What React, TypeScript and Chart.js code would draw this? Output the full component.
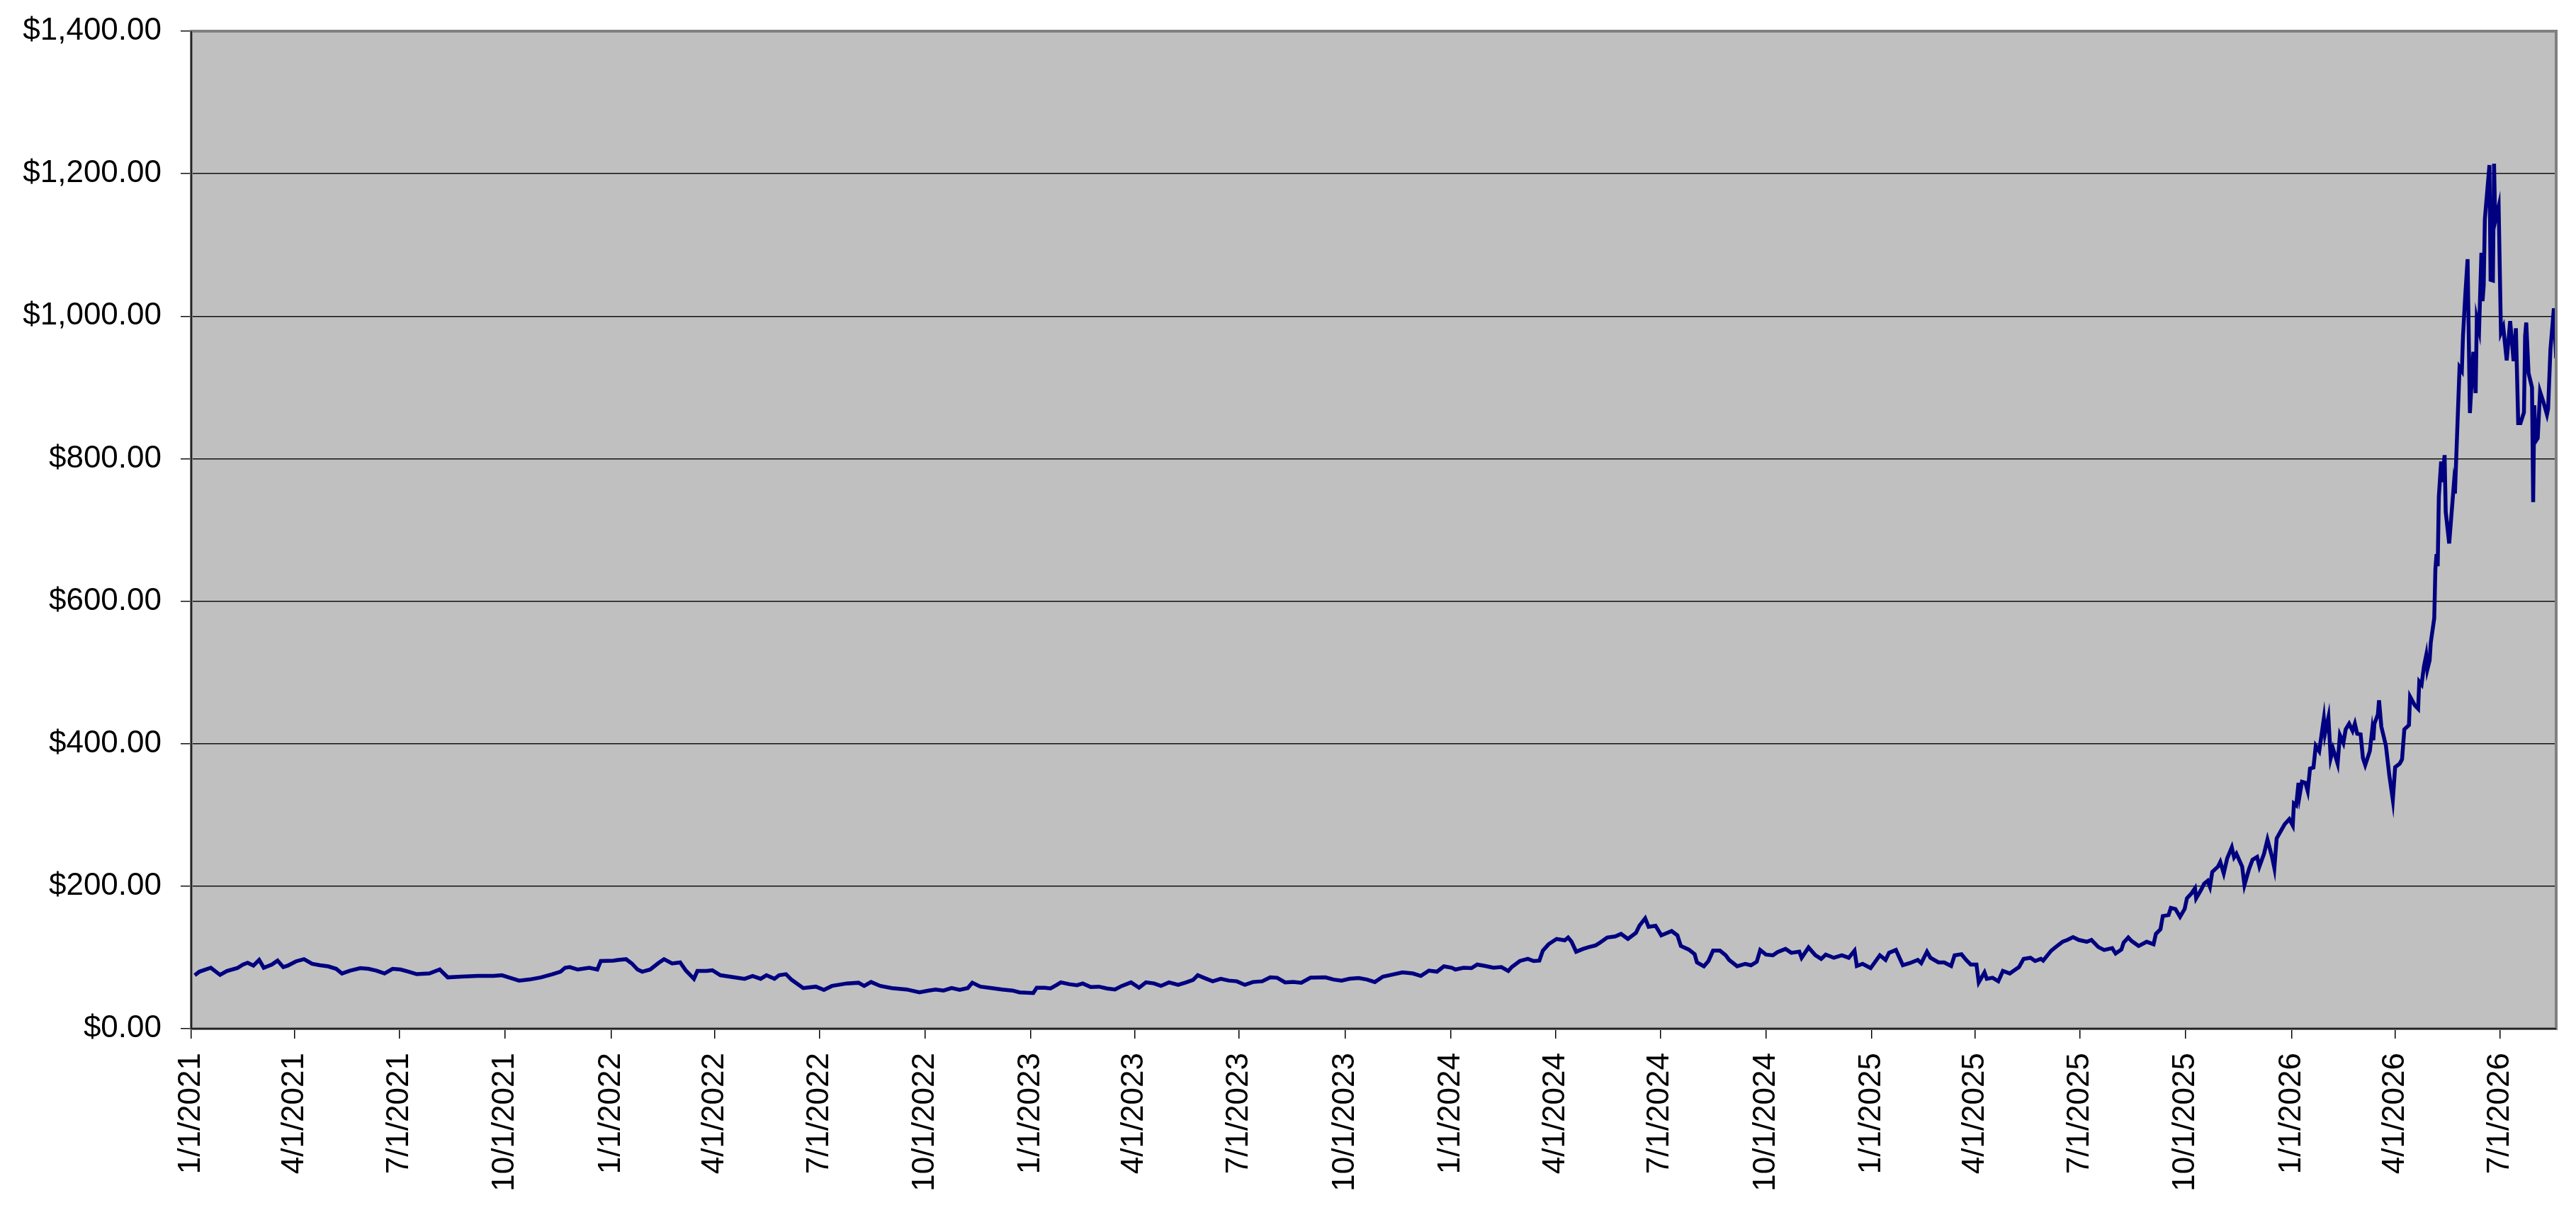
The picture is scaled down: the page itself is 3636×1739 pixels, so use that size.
import React, { useEffect, useRef } from 'react';
import { Chart, registerables } from 'chart.js';

Chart.register(...registerables);

// Quarterly axis labels
const TICK_LABELS = [
  '1/1/2021', '4/1/2021', '7/1/2021', '10/1/2021',
  '1/1/2022', '4/1/2022', '7/1/2022', '10/1/2022',
  '1/1/2023', '4/1/2023', '7/1/2023', '10/1/2023',
  '1/1/2024', '4/1/2024', '7/1/2024', '10/1/2024',
  '1/1/2025', '4/1/2025', '7/1/2025', '10/1/2025',
  '1/1/2026', '4/1/2026', '7/1/2026',
];

const AXIS_START = '1/1/2021';
const Y_MIN = 0;
const Y_MAX = 1400;
const Y_STEP = 200;

// Price series (month-day within each year)
const DATES_2021 = [
  '01-04', '01-08', '01-18', '01-26', '02-01', '02-10', '02-15', '02-19', '02-24', '03-01',
  '03-05', '03-12', '03-17', '03-22', '03-26', '04-02', '04-09', '04-16', '04-23', '04-30',
  '05-07', '05-12', '05-19', '05-28', '06-04', '06-11', '06-18', '06-25', '07-02', '07-09',
  '07-16', '07-27', '08-05', '08-12', '08-24', '09-07', '09-21', '09-28', '10-05', '10-13',
  '10-22', '11-01', '11-11', '11-18', '11-22', '11-26', '12-03', '12-13', '12-20', '12-23',
];
const PRICES_2021 = [
  75, 80, 85.5, 75.5, 81, 85, 90, 92.5, 88.5, 96.5,
  85.5, 90, 95.5, 86.5, 88.5, 94.5, 97.5, 91, 89, 87.5,
  84, 77.5, 81.5, 85, 84, 81.5, 77.5, 84, 83, 80,
  76.5, 77.5, 83, 72, 73, 74, 74, 75, 71.5, 67.5,
  69, 72, 76.5, 80, 85.5, 86.5, 83, 85.5, 83, 95,
];

const DATES_2022 = [
  '01-03', '01-07', '01-14', '01-19', '01-24', '01-28', '02-04', '02-11', '02-16', '02-23',
  '03-02', '03-07', '03-14', '03-17', '03-25', '03-30', '04-06', '04-18', '04-27', '05-04',
  '05-11', '05-16', '05-23', '05-27', '06-02', '06-07', '06-17', '06-28', '07-05', '07-12',
  '07-25', '08-04', '08-09', '08-15', '08-23', '09-02', '09-15', '09-26', '10-04', '10-10',
  '10-17', '10-24', '10-31', '11-07', '11-11', '11-18', '11-28', '12-07', '12-16', '12-22',
];
const PRICES_2022 = [
  95.5, 96.5, 97.5, 91.5, 83, 80, 83, 92, 97.5, 91.5,
  93, 81.5, 70, 81, 81, 82, 75, 72, 70, 74,
  70, 75, 70, 75, 76.5, 68.5, 57, 59, 54.5, 60,
  63.5, 64.5, 60, 65.5, 60, 57, 55, 51, 53.5, 55,
  53.5, 57, 54.5, 57, 64.5, 59, 57, 55, 53.5, 51,
];

const DATES_2023 = [
  '01-03', '01-06', '01-13', '01-18', '01-23', '01-27', '02-03', '02-10', '02-15', '02-22',
  '03-01', '03-08', '03-15', '03-21', '03-29', '04-05', '04-11', '04-18', '04-24', '05-01',
  '05-09', '05-16', '05-22', '05-26', '06-01', '06-08', '06-15', '06-22', '06-29', '07-06',
  '07-13', '07-21', '07-28', '08-03', '08-10', '08-17', '08-24', '09-01', '09-14', '09-21',
  '09-28', '10-05', '10-13', '10-20', '10-27', '11-03', '11-10', '11-20', '11-29', '12-06',
  '12-13', '12-20', '12-26',
];
const PRICES_2023 = [
  50, 57.5, 57.5, 56.5, 61, 65, 62.5, 61, 63.5, 58.5,
  59, 56.5, 55, 60, 65, 57.5, 65, 63.5, 60, 65,
  61.5, 65, 68.5, 75, 71, 66.5, 70, 67.5, 66.5, 61.5,
  65.5, 66.5, 72, 71.5, 65, 65.5, 64.5, 71.5, 72, 69,
  67.5, 70, 71, 69, 65.5, 73, 75.5, 79, 77.5, 74,
  81.5, 80, 87.5,
];

const DATES_2024 = [
  '01-02', '01-05', '01-12', '01-19', '01-24', '01-31', '02-07', '02-14', '02-20', '02-23',
  '03-01', '03-08', '03-13', '03-18', '03-21', '03-26', '04-02', '04-09', '04-12', '04-15',
  '04-19', '04-25', '04-30', '05-06', '05-10', '05-16', '05-23', '05-28', '06-03', '06-10',
  '06-13', '06-18', '06-21', '06-27', '07-02', '07-05', '07-11', '07-16', '07-19', '07-26',
  '07-31', '08-02', '08-08', '08-12', '08-16', '08-22', '08-27', '08-30', '09-06', '09-13',
  '09-18', '09-23', '09-26', '10-01', '10-07', '10-11', '10-18', '10-23', '10-30', '11-01',
  '11-07', '11-13', '11-18', '11-22', '11-29', '12-06', '12-12', '12-17', '12-19', '12-24',
  '12-31',
];
const PRICES_2024 = [
  85.5, 83, 85.5, 85, 90, 88, 85.5, 86.5, 81, 86.5,
  95, 98, 95, 95.5, 109.5, 118.5, 126, 124, 128, 122,
  108, 112, 114.5, 117, 121, 128, 129.5, 133, 126, 134.5,
  144.5, 155, 143, 144.5, 131, 133, 137, 131, 116, 111,
  104.5, 93, 87.5, 95, 109.5, 109.5, 103, 96.5, 87.5, 91,
  89, 94, 110.5, 104, 103, 107.5, 112, 106.5, 108, 99.5,
  114, 103, 98, 104, 99.5, 103, 99.5, 109.5, 88, 91,
  85,
];

const DATES_2025 = [
  '01-08', '01-13', '01-16', '01-22', '01-28', '02-03', '02-10', '02-13', '02-18', '02-21',
  '02-28', '03-05', '03-11', '03-14', '03-20', '03-24', '03-28', '04-02', '04-04', '04-09',
  '04-11', '04-16', '04-21', '04-25', '05-01', '05-05', '05-09', '05-13', '05-19', '05-23',
  '05-28', '05-30', '06-06', '06-11', '06-16', '06-20', '06-25', '06-30', '07-07', '07-11',
  '07-17', '07-22', '07-29', '08-01', '08-06', '08-08', '08-12', '08-15', '08-21', '08-28',
  '09-03', '09-05', '09-09', '09-11', '09-16', '09-18', '09-22', '09-26', '09-30', '10-02',
  '10-06', '10-09', '10-10', '10-14', '10-17', '10-20', '10-22', '10-24', '10-29', '10-31',
  '11-03', '11-06', '11-10', '11-12', '11-14', '11-19', '11-21', '11-25', '11-28', '12-02',
  '12-04', '12-08', '12-11', '12-15', '12-17', '12-19', '12-23', '12-26', '12-30',
];
const PRICES_2025 = [
  103, 96.5, 106.5, 110.5, 89, 92, 96.5, 92, 108, 99.5,
  93, 93, 88, 103, 104.5, 96.5, 90, 90, 65, 79,
  70, 71.5, 66.5, 81, 77.5, 82, 86.5, 98, 99.5, 95,
  98, 95.5, 109.5, 116, 122, 124.5, 128.5, 124.5, 122, 124.5,
  114.5, 110.5, 113, 105.5, 111, 121, 128, 123, 116, 122,
  118.5, 133, 139.5, 158, 159.5, 169.5, 168, 157, 168, 183,
  190, 197, 183, 194, 203.5, 207.5, 199, 220, 227.5, 234,
  218, 239, 254.5, 240.5, 245.5, 227.5, 201.5, 224, 237, 241,
  227.5, 245.5, 265.5, 241, 225.5, 267, 278.5, 287, 294,
];

const DATES_2026 = [
  '01-02', '01-03', '01-05', '01-07', '01-08', '01-10', '01-13', '01-15', '01-17', '01-20',
  '01-22', '01-25', '01-29', '01-30', '02-02', '02-04', '02-06', '02-10', '02-12', '02-15',
  '02-17', '02-20', '02-23', '02-25', '02-27', '03-02', '03-04', '03-06', '03-10', '03-12',
  '03-13', '03-14', '03-17', '03-18', '03-20', '03-24', '03-27', '03-30', '04-01', '04-05',
  '04-07', '04-09', '04-13', '04-14', '04-18', '04-21', '04-22', '04-24', '04-26', '04-28',
  '04-29', '05-01', '05-02', '05-05', '05-06', '05-07', '05-08', '05-09', '05-11', '05-12',
  '05-14', '05-15', '05-18', '05-22', '05-23', '05-27', '05-29', '05-30', '06-01', '06-03',
  '06-05', '06-08', '06-10', '06-11', '06-13', '06-15', '06-16', '06-17', '06-18', '06-22',
  '06-23', '06-25', '06-26', '06-27', '06-30', '07-02', '07-04', '07-07', '07-10', '07-13',
  '07-15', '07-17', '07-19', '07-22', '07-23', '07-24', '07-26', '07-29', '07-30', '07-31',
  '08-01', '08-03', '08-05', '08-08', '08-11', '08-12', '08-14', '08-17', '08-19',
];
const PRICES_2026 = [
  285, 316, 313.5, 345, 327.5, 346.5, 345, 333.5, 365, 366.5,
  397, 389.5, 435, 414, 437, 380, 393, 372, 412, 401,
  420, 428, 418, 428, 414, 413, 380, 370, 389.5, 418,
  405, 428, 441, 461, 424, 397, 355, 321, 367, 372,
  378, 420, 426, 466, 454, 449, 487, 483, 508, 524,
  504, 517, 542, 576, 645, 666, 649, 747, 796, 767,
  805, 725, 681, 763, 751, 928, 923, 972, 1030, 1080,
  864, 950, 892, 996, 981, 1089, 1021, 1043, 1136, 1212,
  1051, 1050, 1214, 1133, 1154, 977, 985, 938, 993, 937,
  983, 850, 850, 865, 972, 991, 920, 900, 739, 875,
  824, 829, 894, 879, 862, 870, 953, 1011, 941,
];

const SERIES: [number, string[], number[]][] = [
  [2021, DATES_2021, PRICES_2021],
  [2022, DATES_2022, PRICES_2022],
  [2023, DATES_2023, PRICES_2023],
  [2024, DATES_2024, PRICES_2024],
  [2025, DATES_2025, PRICES_2025],
  [2026, DATES_2026, PRICES_2026],
];

const FONT = { family: '"Liberation Sans", Arial, sans-serif', size: 44 };

function parseMDY(s: string): number {
  const [m, d, y] = s.split('/').map(Number);
  return Date.UTC(y, m - 1, d) / 86400000;
}
const BASE = parseMDY(AXIS_START);
function dayOf(year: number, md: string): number {
  const [m, d] = md.split('-').map(Number);
  return Date.UTC(year, m - 1, d) / 86400000 - BASE;
}

const plotFrame = {
  id: 'plotFrame',
  beforeDraw(chart: any) {
    const { ctx, chartArea } = chart;
    if (!chartArea) return;
    ctx.save();
    ctx.fillStyle = '#C0C0C0';
    ctx.fillRect(chartArea.left, chartArea.top, chartArea.right - chartArea.left, chartArea.bottom - chartArea.top);
    ctx.restore();
  },
  afterDraw(chart: any) {
    const { ctx, chartArea } = chart;
    if (!chartArea) return;
    const { left, top, right, bottom } = chartArea;
    ctx.save();
    ctx.strokeStyle = '#808080';
    ctx.lineWidth = 4;
    ctx.strokeRect(left, top, right - left, bottom - top);
    ctx.strokeStyle = '#222222';
    ctx.lineWidth = 2;
    ctx.beginPath();
    ctx.moveTo(left, top);
    ctx.lineTo(left, bottom);
    ctx.lineTo(right, bottom);
    ctx.stroke();
    ctx.restore();
  },
};

export default function App() {
  const ref = useRef<HTMLCanvasElement | null>(null);

  useEffect(() => {
    if (!ref.current) return;
    const points = SERIES.flatMap(([year, dates, prices]) =>
      dates.map((md, i) => ({ x: dayOf(year, md), y: prices[i] }))
    );
    const tickDays = TICK_LABELS.map((l) => parseMDY(l) - BASE);
    const lastDay = points[points.length - 1].x;

    const chart = new Chart(ref.current, {
      type: 'line',
      data: {
        datasets: [
          {
            data: points,
            borderColor: '#000080',
            borderWidth: 5.5,
            pointRadius: 0,
            tension: 0,
            fill: false,
          },
        ],
      },
      options: {
        animation: false,
        responsive: true,
        maintainAspectRatio: false,
        layout: { padding: { top: 44, right: 28, left: 0, bottom: 0 } },
        plugins: { legend: { display: false }, tooltip: { enabled: false } },
        scales: {
          x: {
            type: 'linear',
            min: 0,
            max: lastDay,
            afterBuildTicks: (scale: any) => {
              scale.ticks = tickDays.map((v) => ({ value: v }));
            },
            afterFit: (scale: any) => {
              scale.height = 287;
              scale.paddingLeft = 0;
              scale.paddingRight = 0;
            },
            ticks: {
              autoSkip: false,
              maxRotation: 90,
              minRotation: 90,
              padding: 20,
              color: '#000',
              font: FONT,
              callback: (_v: any, i: number) => TICK_LABELS[i],
            },
            grid: { drawOnChartArea: false, drawTicks: true, tickLength: 14, color: '#000', lineWidth: 1.5 },
            border: { display: false },
          },
          y: {
            min: Y_MIN,
            max: Y_MAX,
            afterFit: (scale: any) => {
              scale.width = 270;
              scale.paddingTop = 0;
              scale.paddingBottom = 0;
            },
            ticks: {
              stepSize: Y_STEP,
              padding: 27,
              color: '#000',
              font: FONT,
              callback: (v: any) =>
                '$' + Number(v).toLocaleString('en-US', { minimumFractionDigits: 2, maximumFractionDigits: 2 }),
            },
            grid: { color: '#111', lineWidth: 1.5, tickLength: 15 },
            border: { display: false },
          },
        },
      },
      plugins: [plotFrame],
    });
    return () => chart.destroy();
  }, []);

  return (
    <div style={{ position: 'fixed', left: 0, top: 0, width: '100vw', height: '100vh', background: '#fff' }}>
      <canvas ref={ref} />
    </div>
  );
}
